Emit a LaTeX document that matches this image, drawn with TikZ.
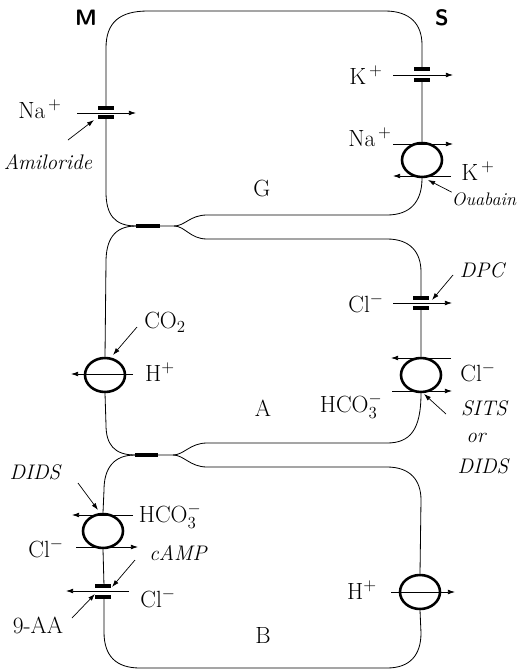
\documentclass[tikz,border=0pt]{standalone}
\usepackage{tikz}
\usetikzlibrary{arrows,arrows.meta,shapes}

\begin{document}
\begin{tikzpicture}[x=0.03cm,y=-0.03cm,
  wall/.style={line width=0.7pt},
  bar/.style={line width=2.6pt},
  tj/.style={line width=4.2pt},
  pump/.style={draw,ellipse,line width=2.2pt,minimum width=1.2cm,minimum height=1.02cm,inner sep=0pt},
  flux/.style={-{Latex[length=6pt,width=4pt]},line width=0.6pt},
  ion/.style={font=\fontsize{20}{22}\selectfont,inner sep=0pt},
  drug/.style={font=\fontsize{18}{20}\selectfont\itshape,inner sep=0pt}]
\useasboundingbox (0,0) rectangle (519,671);

% sides
\node[font=\fontsize{19}{21}\selectfont\sffamily\bfseries] (M) at (86,18) {M};
\node[font=\fontsize{19}{21}\selectfont\sffamily\bfseries] (S) at (442,18) {S};

% pumps and exchangers
\node[pump] (nak) at (422,160) {};
\node[pump] (hA) at (105,375) {};
\node[pump] (exA) at (421,375) {};
\node[pump] (exB) at (103,531) {};
\node[pump] (hB) at (420,592) {};

% channels
\draw[bar]
(98,108)--(114,108) (98,117)--(114,117)
(414,69)--(430,69) (414,80)--(430,80)
(413,298)--(429,298) (413,308)--(429,308)
(95,586)--(111,586) (95,597)--(111,597);

% tight junctions
\draw[tj] (136,226)--(160,226);
\draw[tj] (135,455)--(158,455);

% cell G
\draw[wall]
(106,107)--(106,48) .. controls (106,22) and (120,11) .. (148,11)
--(385,11) .. controls (410,11) and (422,24) .. (422,45)--(422,69)
(422,80)--(nak.north)
(106,118)--(106,192) .. controls (106,214) and (114,226) .. (136,226)
(160,226)--(174,226) .. controls (185,226) and (190,215) .. (207,215)
--(387,215) .. controls (410,215) and (422,202) .. (nak.south);
% cell A
\draw[wall]
(136,226) .. controls (114,226) and (106,240) .. (106,262)--(hA.north)
(hA.south)--(106,425) .. controls (106,444) and (114,455) .. (135,455)
(174,226) .. controls (185,226) and (190,239) .. (207,239)
--(387,239) .. controls (410,239) and (421,252) .. (421,272)--(421,298)
(421,308)--(exA.north)
(158,455)--(173,455) .. controls (184,455) and (190,443) .. (207,443)
--(387,443) .. controls (410,443) and (421,430) .. (exA.south);
% cell B
\draw[wall]
(173,455) .. controls (184,455) and (190,467) .. (207,467)
--(387,467) .. controls (410,467) and (421,480) .. (421,500)--(hB.north)
(hB.south)--(421,633) .. controls (421,655) and (410,668) .. (387,668)
--(140,668) .. controls (116,668) and (104,656) .. (104,632)--(104,597)
(104,586)--(exB.south)
(exB.north)--(104,490) .. controls (104,468) and (114,455) .. (135,455);

% labels
\node[ion] (naM) at (40,109) {Na$^{\,+}$};
\node[drug] (amil) at (48,162) {Amiloride};
\node[ion] (kS) at (366,75) {K$^{\,+}$};
\node[ion] (naS) at (370,137) {Na$^{\,+}$};
\node[ion] (kS2) at (478,171) {K$^{\,+}$};
\node[drug,font=\fontsize{15.5}{17}\selectfont\itshape] (ouab) at (484,199) {Ouabain};
\node[ion] (G) at (262,188) {G};
\node[drug] (dpc) at (482,270) {DPC};
\node[ion] (clS) at (366,303) {Cl$^-$};
\node[ion] (co2) at (165,322) {CO$_2$};
\node[ion] (hM) at (160,372) {H$^+$};
\node[ion] (clS2) at (478,372) {Cl$^-$};
\node[ion] (hco3A) at (351,406) {HCO$_3^-$};
\node[drug] (sits) at (484,408) {SITS};
\node[drug] (or) at (476,438) {or};
\node[drug] (dids1) at (483,466) {DIDS};
\node[ion] (A) at (263,408) {A};
\node[drug] (dids2) at (35,472) {DIDS};
\node[ion] (hco3B) at (170,516) {HCO$_3^-$};
\node[ion] (clM) at (46,548) {Cl$^-$};
\node[drug] (camp) at (178,553) {cAMP};
\node[ion] (clB) at (158,598) {Cl$^-$};
\node[ion] (aa) at (38,625) {9-AA};
\node[ion] (hS) at (362,590) {H$^+$};
\node[ion] (B) at (263,635) {B};

% fluxes
\coordinate (f1a) at (77,113);  \coordinate (f1b) at (136,113);
\coordinate (f2a) at (393,75);  \coordinate (f2b) at (453,75);
\coordinate (f3a) at (393,144); \coordinate (f3b) at (453,144);
\coordinate (f4a) at (451,176); \coordinate (f4b) at (393,176);
\coordinate (f5a) at (393,303); \coordinate (f5b) at (452,303);
\coordinate (f6a) at (133,374); \coordinate (f6b) at (71,374);
\coordinate (f7a) at (451,358); \coordinate (f7b) at (391,358);
\coordinate (f8a) at (392,391); \coordinate (f8b) at (452,391);
\coordinate (f9a) at (133,515); \coordinate (f9b) at (72,515);
\coordinate (f10a) at (76,547); \coordinate (f10b) at (138,547);
\coordinate (f11a) at (129,591); \coordinate (f11b) at (66,591);
\coordinate (f12a) at (391,592); \coordinate (f12b) at (455,592);
\draw[flux] (f1a)--(f1b);
\draw[flux] (f2a)--(f2b);
\draw[flux] (f3a)--(f3b);
\draw[flux] (f4a)--(f4b);
\draw[flux] (f5a)--(f5b);
\draw[flux] (f6a)--(f6b);
\draw[flux] (f7a)--(f7b);
\draw[flux] (f8a)--(f8b);
\draw[flux] (f9a)--(f9b);
\draw[flux] (f10a)--(f10b);
\draw[flux] (f11a)--(f11b);
\draw[flux] (f12a)--(f12b);

% inhibitors
\coordinate (i1) at (94,120);
\coordinate (i2) at (428,180);
\coordinate (i3) at (432,300);
\coordinate (i4) at (113,355);
\coordinate (i5) at (424,394);
\coordinate (i6) at (98,510);
\coordinate (i7) at (112,587);
\coordinate (i8) at (95,594);
\draw[flux] (68,140)--(i1);
\draw[flux] (ouab.north west)--(i2);
\draw[flux] (453,275)--(i3);
\draw[flux] (137,327)--(i4);
\draw[flux] (446,414)--(i5);
\draw[flux] (78,483)--(i6);
\draw[flux] (135,560)--(i7);
\draw[flux] (72,618)--(i8);
\end{tikzpicture}
\end{document}
